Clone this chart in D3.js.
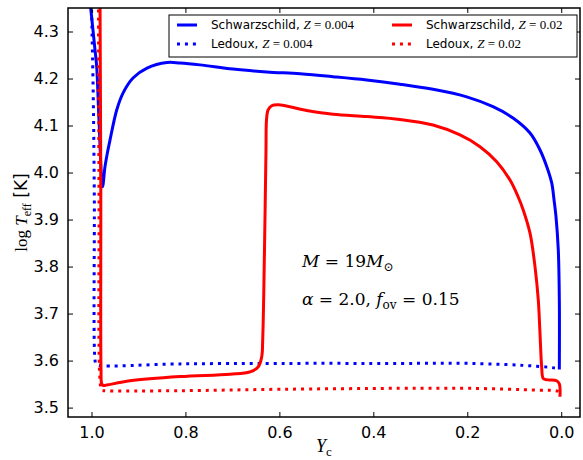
<!DOCTYPE html>
<html>
<head>
<meta charset="utf-8">
<script src="https://cdn.jsdelivr.net/npm/d3@7"></script>
<style>
  body { margin: 0; background: #fff; }
  text { font-family: "DejaVu Sans", sans-serif; }
  .math { font-family: "Liberation Serif", serif; }
  .note { font-family: "DejaVu Serif", serif; }
</style>
</head>
<body>
<svg id="chart" width="583" height="460"></svg>
<script>
// tick values
const xTicks = [1.0, 0.8, 0.6, 0.4, 0.2, 0.0];
const yTicks = [3.5, 3.6, 3.7, 3.8, 3.9, 4.0, 4.1, 4.2, 4.3];

// tracks: [Yc, log Teff]
const schw004 = [
    [1.006, 4.39], [1.0017, 4.35], [0.9925, 4.261], [0.9889, 4.225], [0.984, 4.112],
    [0.9765, 3.970], [0.9713, 4.012], [0.9663, 4.041], [0.9606, 4.069], [0.9463, 4.133],
    [0.9329, 4.169], [0.9116, 4.201], [0.8818, 4.222], [0.8392, 4.234], [0.8115, 4.233],
    [0.769, 4.229], [0.6987, 4.220], [0.627, 4.214], [0.5558, 4.210], [0.4858, 4.204],
    [0.414, 4.197], [0.3432, 4.188], [0.2729, 4.177], [0.2012, 4.161], [0.1452, 4.140],
    [0.1026, 4.116], [0.0664, 4.084], [0.0451, 4.048], [0.0309, 4.013], [0.0202, 3.978],
    [0.0153, 3.942], [0.0111, 3.906], [0.0062, 3.835], [0.004, 3.729], [0.004, 3.581]
];
const ledoux004 = [
    [1.0006, 4.38], [0.9995, 4.331], [0.9961, 4.154], [0.994, 3.949], [0.9925, 3.601],
    [0.9904, 3.593], [0.9855, 3.590], [0.8115, 3.593], [0.5987, 3.594], [0.3432, 3.594],
    [0.1942, 3.594], [0.0522, 3.588], [0.0062, 3.583], [0.004, 3.582]
];
const schw02 = [
    [0.9819, 4.38], [0.9802, 3.969], [0.9797, 3.580], [0.9783, 3.551], [0.9748, 3.547],
    [0.9676, 3.548], [0.918, 3.557], [0.8115, 3.566], [0.7051, 3.571], [0.6625, 3.576],
    [0.6449, 3.587], [0.6376, 3.608], [0.6355, 3.644], [0.6317, 3.835], [0.6285, 4.048],
    [0.6274, 4.112], [0.6242, 4.133], [0.6163, 4.142], [0.6023, 4.144], [0.5418, 4.132],
    [0.4858, 4.124], [0.414, 4.119], [0.3432, 4.113], [0.2729, 4.101], [0.2154, 4.080],
    [0.1729, 4.055], [0.1373, 4.023], [0.109, 3.984], [0.092, 3.949], [0.0807, 3.920],
    [0.0664, 3.871], [0.0558, 3.800], [0.0488, 3.729], [0.0452, 3.659], [0.0416, 3.587],
    [0.0382, 3.562], [0.0282, 3.559], [0.0097, 3.557], [0.0038, 3.550], [0.0027, 3.523]
];
const ledoux02 = [
    [0.9851, 4.38], [0.984, 3.941], [0.9819, 3.559], [0.9783, 3.537], [0.9734, 3.536],
    [0.8115, 3.536], [0.5987, 3.539], [0.3432, 3.541], [0.1942, 3.541], [0.0522, 3.537],
    [0.0062, 3.534], [0.004, 3.527]
];

const series = [
    { data: schw004, color: "#0000ff", dash: null, name: "Schwarzschild, ", z: "0.004" },
    { data: ledoux004, color: "#0000ff", dash: "3,4.95", name: "Ledoux, ", z: "0.004" },
    { data: schw02, color: "#ff0000", dash: null, name: "Schwarzschild, ", z: "0.02" },
    { data: ledoux02, color: "#ff0000", dash: "3,4.95", name: "Ledoux, ", z: "0.02" }
];

const dims = { width: 583, height: 460, margin: { top: 8, right: 3, bottom: 43, left: 68 } };
dims.boundedWidth = dims.width - dims.margin.left - dims.margin.right;
dims.boundedHeight = dims.height - dims.margin.top - dims.margin.bottom;

const svg = d3.select("#chart");
const g = svg.append("g")
    .attr("transform", `translate(${dims.margin.left}, ${dims.margin.top})`);

const xScale = d3.scaleLinear().domain([1.05, -0.04]).range([0, dims.boundedWidth]);
const yScale = d3.scaleLinear().domain([3.48, 4.35]).range([dims.boundedHeight, 0]);

g.append("clipPath").attr("id", "clip")
    .append("rect")
    .attr("width", dims.boundedWidth)
    .attr("height", dims.boundedHeight);

const line = d3.line()
    .x(d => xScale(d[0]))
    .y(d => yScale(d[1]))
    .curve(d3.curveCatmullRom.alpha(0.5));

const plot = g.append("g").attr("clip-path", "url(#clip)");
series.forEach(s => {
    plot.append("path")
        .datum(s.data)
        .attr("d", line)
        .attr("fill", "none")
        .attr("stroke", s.color)
        .attr("stroke-width", 3)
        .attr("stroke-dasharray", s.dash)
        .attr("stroke-linejoin", "round");
});

// axes, ticks inside on all four sides
const tickLen = 5;
const xBottom = g.append("g").attr("transform", `translate(0, ${dims.boundedHeight})`)
    .call(d3.axisBottom(xScale).tickValues(xTicks).tickSize(-tickLen).tickPadding(10).tickFormat(d3.format(".1f")));
const xTop = g.append("g")
    .call(d3.axisTop(xScale).tickValues(xTicks).tickSize(-tickLen).tickFormat(""));
const yLeft = g.append("g")
    .call(d3.axisLeft(yScale).tickValues(yTicks).tickSize(-tickLen).tickPadding(9).tickFormat(d3.format(".1f")));
const yRight = g.append("g").attr("transform", `translate(${dims.boundedWidth}, 0)`)
    .call(d3.axisRight(yScale).tickValues(yTicks).tickSize(-tickLen).tickFormat(""));

[xBottom, xTop, yLeft, yRight].forEach(a => {
    a.select(".domain").remove();
    a.selectAll(".tick line").attr("stroke", "#000").attr("stroke-width", 1);
    a.selectAll("text").attr("font-size", 16).attr("fill", "#000")
        .attr("font-family", "DejaVu Sans, sans-serif");
});

g.append("rect")
    .attr("width", dims.boundedWidth)
    .attr("height", dims.boundedHeight)
    .attr("fill", "none")
    .attr("stroke", "#000")
    .attr("stroke-width", 1.5);

// axis labels
svg.append("text")
    .attr("class", "math")
    .attr("x", dims.margin.left + dims.boundedWidth / 2)
    .attr("y", 452)
    .attr("text-anchor", "middle")
    .attr("font-size", 18)
    .call(t => {
        t.append("tspan").attr("font-style", "italic").text("Y");
        t.append("tspan").attr("font-size", 13).attr("dy", 4).text("c");
    });

svg.append("text")
    .attr("transform", `translate(27, ${dims.margin.top + dims.boundedHeight / 2}) rotate(-90)`)
    .attr("text-anchor", "middle")
    .attr("font-size", 17)
    .call(t => {
        t.append("tspan").attr("class", "math").text("log ");
        t.append("tspan").attr("class", "math").attr("font-style", "italic").text("T");
        t.append("tspan").attr("class", "math").attr("font-size", 12).attr("dy", 4).text("eff");
        t.append("tspan").attr("dy", -4).text(" [K]");
    });

// annotation
const note = g.append("g").attr("font-size", 17);
note.append("text")
    .attr("class", "note")
    .attr("x", xScale(0.552)).attr("y", yScale(3.80))
    .call(t => {
        t.append("tspan").attr("font-style", "italic").text("M");
        t.append("tspan").text(" = 19");
        t.append("tspan").attr("font-style", "italic").text("M");
        t.append("tspan").attr("font-size", 12).attr("dy", 4).text("⊙");
    });
note.append("text")
    .attr("class", "note")
    .attr("x", xScale(0.552)).attr("y", yScale(3.718))
    .call(t => {
        t.append("tspan").attr("font-style", "italic").text("α");
        t.append("tspan").text(" = 2.0, ");
        t.append("tspan").attr("font-style", "italic").text("f");
        t.append("tspan").attr("font-size", 12).attr("dy", 4).text("ov");
        t.append("tspan").attr("dy", -4).text(" = 0.15");
    });

// legend
const legend = svg.append("g").attr("transform", "translate(169, 15)");
legend.append("rect")
    .attr("width", 408).attr("height", 42)
    .attr("fill", "#fff").attr("stroke", "#000").attr("stroke-width", 1);
series.forEach((s, i) => {
    const col = Math.floor(i / 2), row = i % 2;
    const lx = 8 + col * 215, ly = 10 + row * 19;
    legend.append("line")
        .attr("x1", lx).attr("x2", lx + 20)
        .attr("y1", ly).attr("y2", ly)
        .attr("stroke", s.color).attr("stroke-width", 3)
        .attr("stroke-dasharray", s.dash);
    const t = legend.append("text")
        .attr("x", lx + 34).attr("y", ly + 4)
        .attr("font-size", 12);
    t.append("tspan").text(s.name);
    t.append("tspan").attr("class", "math").attr("font-style", "italic").attr("font-size", 13).text("Z");
    t.append("tspan").attr("class", "math").attr("font-size", 13).text(" = " + s.z);
});
</script>
</body>
</html>
